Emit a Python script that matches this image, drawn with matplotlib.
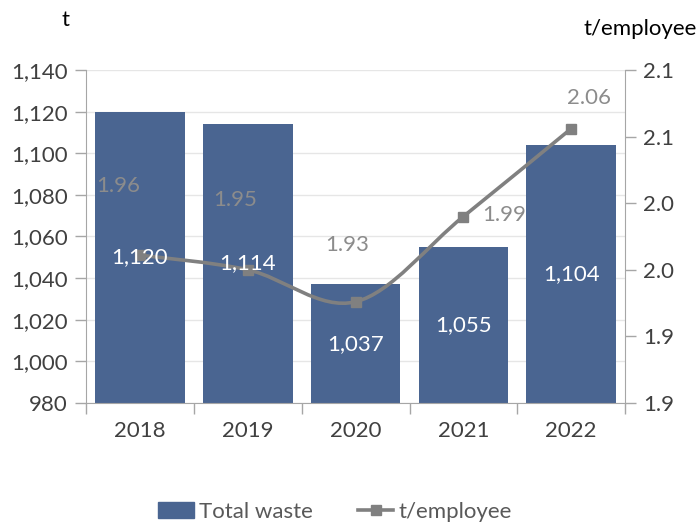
import matplotlib
matplotlib.use("Agg")
import matplotlib.pyplot as plt
import numpy as np
from matplotlib.path import Path
from matplotlib.patches import PathPatch
from matplotlib.lines import Line2D
from matplotlib.patches import Patch

years = ["2018", "2019", "2020", "2021", "2022"]
total_waste = [1120, 1114, 1037, 1055, 1104]
t_per_employee = [1.961, 1.950, 1.926, 1.990, 2.056]
left_ticks = [980, 1000, 1020, 1040, 1060, 1080, 1100, 1120, 1140]
right_ticks = [1.85, 1.90, 1.95, 2.00, 2.05, 2.10]
# label offsets in points (dx, dy)
lab_off = [(-16, 50), (-9, 50), (-6, 41), (29, 1), (13, 22)]

plt.rcParams['font.family'] = ['Lato', 'DejaVu Sans']
BAR = "#4A6591"
LINE = "#808080"
TXT = "#404040"
AX = "#A6A6A6"
FS = 16

fig = plt.figure(figsize=(7, 5.25), dpi=100)
ax = fig.add_axes([0.123, 0.2324, 0.77, 0.6343])
x = np.arange(len(years))
ax.bar(x, total_waste, width=0.83, color=BAR, zorder=2)
ax.set_xlim(-0.5, len(years) - 0.5)
ax.set_ylim(980, 1140)
ax.set_yticks(left_ticks)
ax.set_yticklabels([f"{v:,}" for v in left_ticks])
ax.grid(axis='y', color="#E6E6E6", lw=1, zorder=0)
ax.set_axisbelow(True)
ax.set_xticks(x)
ax.set_xticklabels(years)
ax.set_xticks(np.arange(-0.5, len(years)), minor=True)
ax.tick_params(axis='x', which='major', length=0, labelsize=FS, colors=TXT, pad=13)
ax.tick_params(axis='x', which='minor', length=8, color=AX, width=1)
ax.tick_params(axis='y', length=8, color=AX, width=1, labelsize=FS, colors=TXT, pad=5)
for s in ['top', 'right']:
    ax.spines[s].set_visible(False)
for s in ['left', 'bottom']:
    ax.spines[s].set_color(AX)

ax2 = ax.twinx()
ax2.set_ylim(1.85, 2.10)
ax2.set_yticks(right_ticks)
ax2.set_yticklabels([f"{v + 1e-9:.1f}" for v in right_ticks])
ax2.tick_params(axis='y', length=8, color=AX, width=1, labelsize=FS, colors=TXT, pad=5)
for s in ['top', 'left', 'bottom']:
    ax2.spines[s].set_visible(False)
ax2.spines['right'].set_color(AX)

# smooth line (Catmull-Rom as cubic Bezier)
pts = np.column_stack([x, t_per_employee]).astype(float)
n = len(pts)
verts = [pts[0]]
codes = [Path.MOVETO]
for i in range(n - 1):
    p0 = pts[i - 1] if i > 0 else pts[i]
    p1 = pts[i]
    p2 = pts[i + 1]
    p3 = pts[i + 2] if i + 2 < n else pts[i + 1]
    c1 = p1 + (p2 - p0) / 6
    c2 = p2 - (p3 - p1) / 6
    verts += [c1, c2, p2]
    codes += [Path.CURVE4] * 3
ax2.add_patch(PathPatch(Path(verts, codes), fill=False, edgecolor=LINE, lw=2.6, zorder=3))
ax2.plot(x, t_per_employee, ls='none', marker='s', ms=7, color=LINE, zorder=4)
for xi, v, (dx, dy) in zip(x, t_per_employee, lab_off):
    ax2.annotate(f"{v:.2f}", (xi, v), xytext=(dx, dy), textcoords='offset points',
                 ha='center', va='center', color="#8C8C8C", fontsize=FS, zorder=6)

# bar value labels drawn above the line
for xi, v in zip(x, total_waste):
    ax2.text(xi, (980 + v) / 2, f"{v:,}", transform=ax.transData, ha='center', va='center',
             color='white', fontsize=FS, zorder=7)

fig.text(65 / 700, 1 - 20 / 525, "t", ha='center', va='center', fontsize=FS, color='black')
fig.text(640 / 700, 1 - 29 / 525, "t/employee", ha='center', va='center', fontsize=FS, color='black')

handles = [Patch(facecolor=BAR, edgecolor=BAR),
           Line2D([0], [0], color=LINE, lw=2.6, marker='s', ms=7)]
fig.legend(handles, ["Total waste", "t/employee"], loc='center', bbox_to_anchor=(0.479, 1 - 512 / 525),
           ncol=2, frameon=False, fontsize=FS, labelcolor="#595959", handlelength=1.6,
           handletextpad=0.25, columnspacing=2.0)

fig.savefig("out.png", dpi=100)
